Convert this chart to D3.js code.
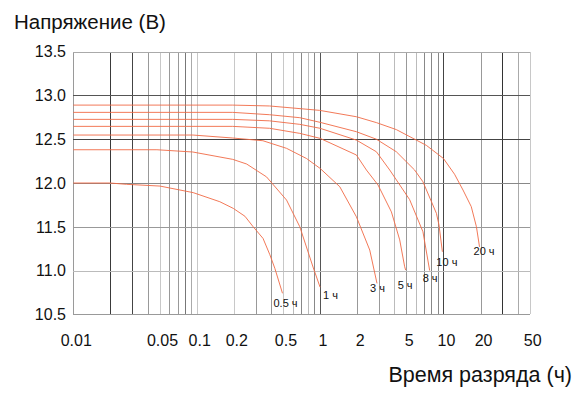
<!DOCTYPE html>
<html><head><meta charset="utf-8">
<script src="https://cdn.jsdelivr.net/npm/d3@7/dist/d3.min.js"></script>
<style>
html,body{margin:0;padding:0;background:#fff;}
svg{display:block;font-family:"Liberation Sans",Arial,sans-serif;}
</style></head>
<body>
<svg id="chart" width="580" height="398"></svg>
<script>
// ---- data ----
const yTicks = [10.5, 11.0, 11.5, 12.0, 12.5, 13.0, 13.5];
const xTickValues = [0.01, 0.05, 0.1, 0.2, 0.5, 1, 2, 5, 10, 20, 50];
const xTickLabels = ["0.01", "0.05", "0.1", "0.2", "0.5", "1", "2", "5", "10", "20", "50"];
const seriesNames = ["0.5 ч", "1 ч", "3 ч", "5 ч", "8 ч", "10 ч", "20 ч"];

const t05 = [0.01, 0.0198, 0.027, 0.0504, 0.0937, 0.154, 0.198, 0.246, 0.287, 0.345, 0.392, 0.43, 0.496];
const v05 = [12.0, 12.0, 11.985, 11.965, 11.89, 11.786, 11.71, 11.62, 11.5, 11.367, 11.18, 11.025, 10.74];

const t1 = [0.01, 0.0476, 0.093, 0.196, 0.254, 0.368, 0.535, 0.685, 0.877, 1.0];
const v1 = [12.38, 12.38, 12.354, 12.27, 12.217, 12.07, 11.805, 11.5, 11.04, 10.81];

const t3 = [0.01, 0.0932, 0.196, 0.344, 0.535, 0.776, 1.0, 1.445, 1.97, 2.527, 2.894];
const v3 = [12.548, 12.548, 12.514, 12.483, 12.396, 12.28, 12.167, 11.957, 11.614, 11.234, 10.853];

const t5 = [0.01, 0.196, 0.39, 0.685, 1.0, 1.97, 2.375, 2.95, 3.785, 4.42, 4.85, 4.94];
const v5 = [12.647, 12.647, 12.625, 12.567, 12.51, 12.32, 12.148, 11.977, 11.67, 11.35, 11.043, 11.005];

const t8 = [0.01, 0.196, 0.39, 0.685, 1.0, 1.97, 2.86, 3.67, 5.32, 6.82, 7.73];
const v8 = [12.727, 12.727, 12.71, 12.67, 12.625, 12.49, 12.357, 12.148, 11.81, 11.443, 11.0];

const t10 = [0.01, 0.196, 0.39, 0.685, 1.0, 1.97, 2.86, 4.15, 5.84, 6.82, 8.77, 9.2, 9.8];
const v10 = [12.807, 12.807, 12.78, 12.746, 12.693, 12.586, 12.5, 12.357, 12.148, 12.014, 11.653, 11.52, 11.214];

const t20 = [0.01, 0.196, 0.39, 0.99, 1.97, 2.86, 4.15, 6.03, 7.27, 10, 12.3, 14.4, 16.8, 18.5, 19.6];
const v20 = [12.89, 12.89, 12.88, 12.83, 12.757, 12.69, 12.61, 12.49, 12.43, 12.28, 12.10, 11.92, 11.73, 11.5, 11.27];

const seriesT = [t05, t1, t3, t5, t8, t10, t20];
const seriesV = [v05, v1, v3, v5, v8, v10, v20];

// ---- layout / style ----
const svg = d3.select("#chart");
const x = d3.scaleLog().domain([0.01, 50]).range([73.3, 529.7]);
const y = d3.scaleLinear().domain([10.5, 13.5]).range([314.3, 51.7]);
const X = v => Math.round(x(v)) + 0.5;
const Y = v => Math.round(y(v)) + 0.5;

// vertical grid lines (every 1..9 × decade)
const vGrid = [];
[0.01, 0.1, 1, 10].forEach(d => { for (let k = 1; k <= 9; k++) { const v = +(d * k).toPrecision(3); if (v <= 50) vGrid.push(v); } });
const vColor = {
  "0.01":"#9a9a9a","0.02":"#3a3a3a","0.03":"#444","0.04":"#999","0.05":"#c8c8c8","0.06":"#999","0.07":"#999","0.08":"#777","0.09":"#aaa",
  "0.1":"#c8c8c8","0.2":"#c8c8c8","0.3":"#999","0.4":"#999","0.5":"#c8c8c8","0.6":"#bbb","0.7":"#888","0.8":"#bbb","0.9":"#888",
  "1":"#555","2":"#999","3":"#999","4":"#bbb","5":"#999","6":"#bbb","7":"#888","8":"#888","9":"#888",
  "10":"#444","20":"#999","30":"#333","40":"#aaa","50":"#c8c8c8"
};
const hColor = {"10.5":"#999","11":"#bbb","11.5":"#999","12":"#888","12.5":"#444","13":"#555","13.5":"#aaa"};

const grid = svg.append("g").attr("shape-rendering", "crispEdges");
grid.selectAll("line.v").data(vGrid).enter().append("line")
  .attr("x1", d => X(d)).attr("x2", d => X(d))
  .attr("y1", y(13.5)).attr("y2", y(10.5))
  .attr("stroke", d => vColor[String(d)] || "#999").attr("stroke-width", 1);
grid.selectAll("line.h").data(yTicks).enter().append("line")
  .attr("x1", x(0.01)).attr("x2", x(50))
  .attr("y1", d => Y(d)).attr("y2", d => Y(d))
  .attr("stroke", d => hColor[String(d)] || "#999").attr("stroke-width", 1);

// curves
const line = d3.line().x(d => x(d[0])).y(d => y(d[1]));
seriesT.forEach((ts, i) => {
  const pts = ts.map((t, j) => [t, seriesV[i][j]]);
  svg.append("path").datum(pts).attr("d", line)
    .attr("fill", "none").attr("stroke", "#f06a45").attr("stroke-width", 0.9);
});

// curve labels, offset from each curve's last point
const labelOffsets = [[-9, 14], [3, 12], [-7, 9], [-8, 19], [-7, 11], [-6, 14], [-6, 8]];
seriesT.forEach((ts, i) => {
  const n = ts.length - 1;
  svg.append("text")
    .attr("x", x(ts[n]) + labelOffsets[i][0])
    .attr("y", y(seriesV[i][n]) + labelOffsets[i][1])
    .attr("font-size", 11).attr("fill", "#111")
    .text(seriesNames[i]);
});

// axes tick labels
svg.append("g").selectAll("text").data(yTicks).enter().append("text")
  .attr("x", 66).attr("y", d => y(d)).attr("dy", "0.36em")
  .attr("text-anchor", "end").attr("font-size", 16).attr("fill", "#111")
  .text(d => d.toFixed(1));
svg.append("g").selectAll("text").data(xTickValues).enter().append("text")
  .attr("x", d => x(d) + 3).attr("y", 346)
  .attr("text-anchor", "middle").attr("font-size", 16).attr("fill", "#111")
  .text((d, i) => xTickLabels[i]);

// axis titles
svg.append("text").attr("x", 14).attr("y", 29).attr("font-size", 20.5).attr("fill", "#111").text("Напряжение (В)");
svg.append("text").attr("x", 572).attr("y", 382).attr("text-anchor", "end").attr("font-size", 21.5).attr("fill", "#111").text("Время разряда (ч)");
</script>
</body></html>
